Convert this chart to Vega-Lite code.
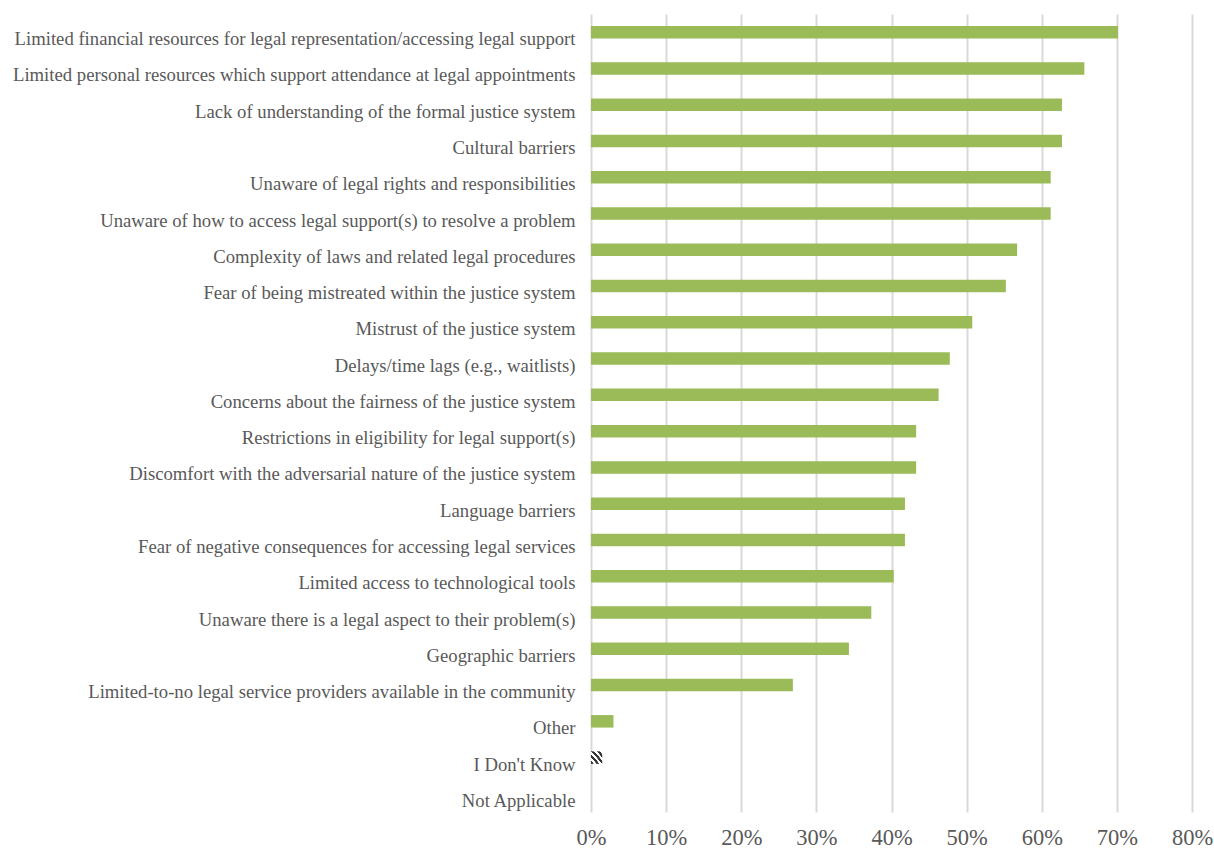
{
  "$schema": "https://vega.github.io/schema/vega-lite/v6.json",
  "width": 601,
  "height": 798,
  "autosize": "none",
  "padding": {"left": 591, "top": 14, "right": 22, "bottom": 38},
  "background": "white",
  "config": {"view": {"stroke": null}, "font": "Liberation Serif"},
  "data": {
    "values": [
      {"cat": "Limited financial resources for legal representation/accessing legal support", "pct": 0.7015},
      {"cat": "Limited personal resources which support attendance at legal appointments", "pct": 0.6567},
      {"cat": "Lack of understanding of the formal justice system", "pct": 0.6269},
      {"cat": "Cultural barriers", "pct": 0.6269},
      {"cat": "Unaware of legal rights and responsibilities", "pct": 0.6119},
      {"cat": "Unaware of how to access legal support(s) to resolve a problem", "pct": 0.6119},
      {"cat": "Complexity of laws and related legal procedures", "pct": 0.5672},
      {"cat": "Fear of being mistreated within the justice system", "pct": 0.5522},
      {"cat": "Mistrust of the justice system", "pct": 0.5075},
      {"cat": "Delays/time lags (e.g., waitlists)", "pct": 0.4776},
      {"cat": "Concerns about the fairness of the justice system", "pct": 0.4627},
      {"cat": "Restrictions in eligibility for legal support(s)", "pct": 0.4328},
      {"cat": "Discomfort with the adversarial nature of the justice system", "pct": 0.4328},
      {"cat": "Language barriers", "pct": 0.4179},
      {"cat": "Fear of negative consequences for accessing legal services", "pct": 0.4179},
      {"cat": "Limited access to technological tools ", "pct": 0.403},
      {"cat": "Unaware there is a legal aspect to their problem(s)", "pct": 0.3731},
      {"cat": "Geographic barriers", "pct": 0.3433},
      {"cat": "Limited-to-no legal service providers available in the community", "pct": 0.2687},
      {"cat": "Other", "pct": 0.0299},
      {"cat": "I Don't Know", "pct": 0.0149},
      {"cat": "Not Applicable", "pct": 0}
    ]
  },
  "mark": {"type": "bar"},
  "encoding": {
    "y": {
      "field": "cat",
      "type": "nominal",
      "sort": null,
      "scale": {"paddingInner": 0.655, "paddingOuter": 0.3275},
      "axis": {
        "title": null,
        "domain": false,
        "ticks": false,
        "labelFont": "Liberation Serif",
        "labelFontSize": 18.7,
        "labelColor": "#595959",
        "labelPadding": 16,
        "labelOffset": 7,
        "labelLimit": 800
      }
    },
    "x": {
      "field": "pct",
      "type": "quantitative",
      "scale": {"domain": [0, 0.8]},
      "axis": {
        "title": null,
        "format": ".0%",
        "values": [0, 0.1, 0.2, 0.3, 0.4, 0.5, 0.6, 0.7, 0.8],
        "labelOverlap": false,
        "labelFlush": false,
        "domain": false,
        "ticks": false,
        "grid": true,
        "gridColor": "#d9d9d9",
        "gridWidth": 2,
        "labelFont": "Liberation Serif",
        "labelFontSize": 22.5,
        "labelColor": "#595959",
        "labelPadding": 14
      }
    },
    "color": {
      "condition": {
        "test": "datum.cat === \"I Don't Know\"",
        "value": {
          "gradient": "linear",
          "x1": 0, "y1": 1, "x2": 1, "y2": 0,
          "stops": [
            {"offset": 0, "color": "#333333"},
            {"offset": 0.12, "color": "#333333"},
            {"offset": 0.13, "color": "#ffffff"},
            {"offset": 0.25, "color": "#ffffff"},
            {"offset": 0.26, "color": "#333333"},
            {"offset": 0.38, "color": "#333333"},
            {"offset": 0.39, "color": "#ffffff"},
            {"offset": 0.5, "color": "#ffffff"},
            {"offset": 0.51, "color": "#333333"},
            {"offset": 0.63, "color": "#333333"},
            {"offset": 0.64, "color": "#ffffff"},
            {"offset": 0.75, "color": "#ffffff"},
            {"offset": 0.76, "color": "#333333"},
            {"offset": 0.88, "color": "#333333"},
            {"offset": 0.89, "color": "#ffffff"},
            {"offset": 1, "color": "#ffffff"}
          ]
        }
      },
      "value": "#9BBB59"
    }
  }
}
